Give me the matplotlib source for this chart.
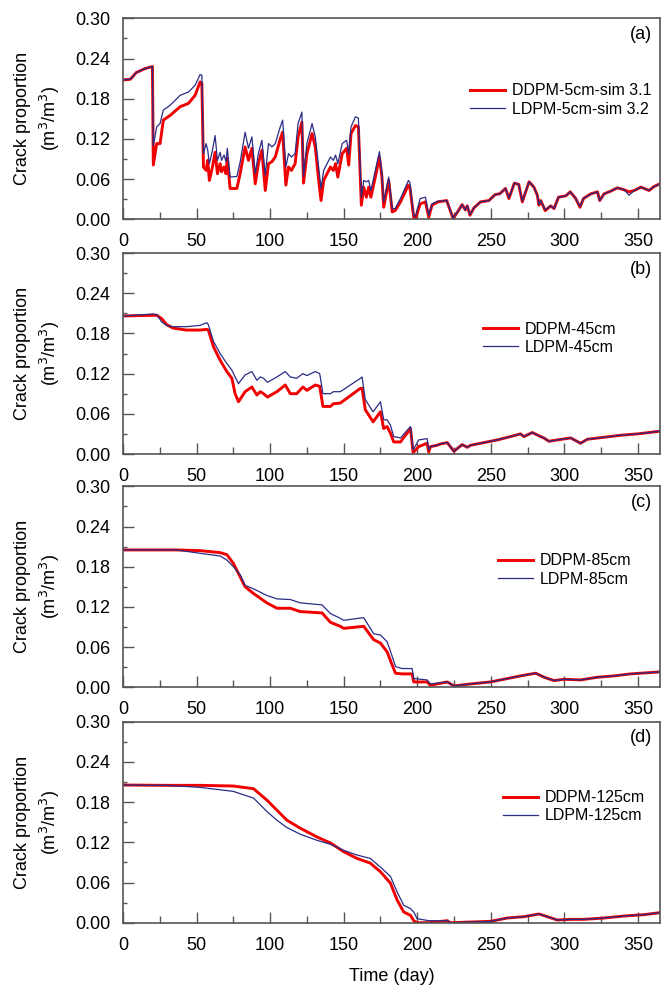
import matplotlib
matplotlib.use("Agg")
import matplotlib.pyplot as plt
from matplotlib.ticker import MultipleLocator

plt.rcParams['font.family'] = ['Liberation Sans', 'DejaVu Sans']

# ---------------- data ----------------
days_a = [0, 5, 9, 15, 20, 20.6, 22.9, 25.2, 27.4, 32, 38.8, 44.5, 49, 52.4, 53.6, 54.7, 56.5, 57.6,
          58.7, 60.8, 62.6, 64.2, 66, 67, 68.7, 70, 70.9, 72.8, 77.4, 79.6, 83, 85.3, 87.6, 89.9,
          92, 94.4, 96.7, 98.9, 101.2, 103.5, 106.9, 108.5, 110.7, 112.5, 114.5, 117, 119, 121.6,
          122.7, 125, 128.5, 130.7, 133, 134.6, 136.4, 138.7, 141, 143, 144.5, 146, 149, 152,
          153.4, 155, 158, 160, 162, 163.6, 165.4, 167, 168.5, 171.5, 174.3, 176, 177.2, 180.6,
          183, 185, 188.6, 194, 195, 197.6, 198.7, 202, 205.6, 207.8, 210, 214, 220, 224.4, 228,
          230.5, 232.7, 234, 235.8, 238.5, 243, 248.7, 253, 256, 260, 262.3, 266, 269, 271.4,
          276, 279.3, 281.6, 282.7, 283.9, 287, 290.7, 293, 296, 301, 304, 307.7, 310.6, 313,
          318, 322.5, 324, 327, 331.5, 336, 340.6, 344, 347.5, 352, 357.6, 361, 365]
ddpm_a = [.208, .209, .219, .225, .228, .081, .113, .113, .148, .155, .168, .173, .185, .205, .203,
          .078, .073, .088, .058, .078, .100, .068, .083, .071, .078, .068, .091, .046, .046, .068,
          .108, .088, .106, .053, .083, .103, .043, .083, .086, .093, .120, .130, .051, .078, .073,
          .083, .123, .145, .054, .098, .128, .108, .058, .028, .058, .068, .078, .073, .083, .063,
          .098, .106, .081, .128, .140, .138, .021, .048, .033, .048, .033, .063, .093, .063, .018,
          .058, .011, .013, .026, .051, .048, .003, .000, .023, .026, .003, .021, .026, .028, .001,
          .013, .022, .014, .020, .006, .017, .026, .028, .037, .038, .046, .031, .054, .052, .026,
          .056, .048, .036, .021, .028, .013, .020, .016, .033, .035, .041, .031, .018, .031, .038,
          .041, .028, .038, .042, .047, .044, .041, .043, .048, .043, .049, .053]
ldpm_a = [.208, .209, .219, .225, .228, .110, .138, .143, .163, .170, .185, .190, .200, .216, .215,
          .098, .113, .103, .083, .103, .125, .088, .100, .088, .096, .086, .106, .063, .064, .085,
          .130, .106, .123, .068, .098, .118, .066, .113, .108, .113, .138, .148, .078, .098, .093,
          .098, .143, .160, .064, .113, .143, .123, .078, .046, .073, .083, .093, .088, .096, .083,
          .113, .118, .098, .138, .153, .151, .033, .058, .056, .058, .043, .073, .101, .068, .026,
          .063, .016, .016, .031, .058, .055, .006, .004, .031, .033, .006, .023, .027, .028, .002,
          .013, .022, .014, .020, .007, .017, .026, .028, .037, .038, .046, .032, .054, .052, .027,
          .056, .048, .036, .022, .028, .014, .020, .016, .033, .035, .041, .031, .019, .031, .038,
          .041, .028, .038, .042, .047, .044, .036, .043, .048, .043, .049, .053]

days_b = [0, 20.6, 23, 26.3, 29.7, 34, 43, 52.4, 57, 58, 61.5, 66, 70.6, 74, 76.2, 78.5, 83, 87.6,
          91, 93.3, 95.5, 98.2, 104.6, 110.3, 113.7, 118, 122.3, 125, 130.7, 133.7, 135.9, 141,
          143, 147.7, 161.4, 162.5, 164.7, 170, 175, 177.2, 179.5, 181.8, 184, 188.6, 195.4,
          197.2, 201, 206.7, 207.8, 209, 213.5, 215.8, 220.4, 224.9, 230.5, 234, 236.2, 245.3,
          254.4, 263.4, 270.2, 272.5, 278.2, 283.9, 286, 289.5, 295.2, 304.3, 311, 315.6, 327,
          338.3, 349.7, 365]
ddpm_b = [.206, .207, .207, .202, .193, .188, .185, .185, .186, .185, .160, .140, .123, .113, .090,
          .078, .093, .100, .088, .093, .090, .085, .093, .103, .090, .090, .100, .095, .103, .101,
          .071, .071, .075, .076, .098, .098, .066, .048, .063, .038, .041, .031, .018, .018, .038,
          .002, .011, .016, .003, .011, .013, .015, .017, .004, .014, .010, .013, .017, .021, .026,
          .030, .026, .032, .026, .024, .019, .021, .024, .016, .022, .025, .028, .030, .034]
ldpm_b = [.206, .209, .208, .197, .192, .190, .190, .192, .196, .193, .168, .150, .135, .125, .115,
          .105, .118, .123, .110, .115, .113, .107, .115, .123, .115, .113, .120, .117, .123, .120,
          .090, .090, .093, .093, .113, .115, .081, .063, .078, .051, .051, .043, .026, .024, .041,
          .006, .021, .023, .006, .011, .013, .015, .017, .004, .014, .010, .013, .017, .021, .026,
          .030, .026, .032, .026, .024, .019, .021, .024, .016, .022, .025, .028, .030, .034]

days_c = [0, 36.5, 52.4, 66, 70.6, 75, 79.6, 83, 88.7, 97.8, 104.6, 113.7, 120.5, 135.3, 141,
          147.7, 150, 163.6, 170.4, 175, 179.5, 183, 185.2, 189.7, 196.5, 197.6, 206.7, 209,
          220.4, 224.9, 236.2, 249.8, 261.2, 272.5, 280.5, 286.2, 293, 299.8, 311, 322.3, 333.6,
          345, 365]
ddpm_c = [.205, .205, .204, .201, .198, .185, .165, .150, .140, .126, .118, .118, .113, .111, .097,
          .091, .088, .091, .071, .066, .053, .033, .021, .020, .020, .008, .008, .003, .008, .002,
          .005, .008, .013, .018, .021, .015, .010, .012, .011, .015, .017, .020, .023]
ldpm_c = [.205, .205, .200, .196, .190, .180, .168, .152, .147, .137, .132, .131, .126, .123, .110,
          .103, .100, .104, .080, .078, .068, .046, .031, .028, .028, .013, .011, .005, .008, .002,
          .005, .008, .013, .018, .021, .015, .010, .012, .011, .015, .017, .020, .023]

days_d = [0, 29.7, 52.4, 75, 88.7, 97.8, 104.6, 111.4, 120.5, 131.8, 141, 150, 159, 168, 175,
          181.8, 186.3, 190.8, 195.4, 197.6, 199.9, 207.8, 220.4, 222.6, 249.8, 261.2, 272.5,
          282.7, 288.4, 295.2, 304.3, 313.4, 327, 340.6, 354.2, 365]
ddpm_d = [.2055, .205, .205, .204, .200, .183, .168, .153, .141, .128, .119, .106, .096, .089, .076,
          .059, .034, .016, .011, .003, .000, .000, .003, .000, .002, .007, .009, .013, .009, .004,
          .005, .005, .007, .010, .012, .015]
ldpm_d = [.2055, .205, .202, .196, .186, .166, .153, .142, .132, .123, .117, .108, .101, .096, .083,
          .069, .046, .026, .021, .016, .006, .003, .003, .000, .002, .007, .009, .013, .009, .004,
          .005, .005, .007, .010, .012, .015]

panel_tags = ['(a)', '(b)', '(c)', '(d)']
ddpm_labels = ['DDPM-5cm-sim 3.1', 'DDPM-45cm', 'DDPM-85cm', 'DDPM-125cm']
ldpm_labels = ['LDPM-5cm-sim 3.2', 'LDPM-45cm', 'LDPM-85cm', 'LDPM-125cm']
x_ticks = [0, 50, 100, 150, 200, 250, 300, 350]
y_ticks = [0.00, 0.06, 0.12, 0.18, 0.24, 0.30]

# ---------------- layout ----------------
W, H = 667, 990
fig = plt.figure(figsize=(W / 100, H / 100), dpi=100)
left = 123 / W
width = (660 - 123) / W
height = 201 / H
bottoms_px = [219.3, 454.0, 687.3, 922.7]
legend_anchor = [(0.985, 0.594), (0.919, 0.576), (0.947, 0.584), (0.972, 0.577)]

series = [(days_a, ddpm_a, ldpm_a), (days_b, ddpm_b, ldpm_b),
          (days_c, ddpm_c, ldpm_c), (days_d, ddpm_d, ldpm_d)]

frame_col = '#555555'
red = '#F00000'
blue = '#2A2C86'

for i, (d, r, b) in enumerate(series):
    ax = fig.add_axes([left, 1 - bottoms_px[i] / H, width, height])
    ax.plot(d, r, color=red, lw=2.1, label=ddpm_labels[i], solid_joinstyle='round')
    ax.plot(d, b, color=blue, lw=0.9, label=ldpm_labels[i])
    ax.set_xlim(0, 365)
    ax.set_ylim(0, 0.30)
    ax.set_xticks(x_ticks)
    ax.set_yticks(y_ticks)
    ax.set_yticklabels([f'{v:.2f}' for v in y_ticks])
    ax.xaxis.set_minor_locator(MultipleLocator(25))
    ax.yaxis.set_minor_locator(MultipleLocator(0.03))
    ax.tick_params(axis='both', which='both', direction='in', top=False, right=False,
                   color=frame_col, labelsize=13, width=1.0)
    ax.tick_params(axis='x', which='major', length=8, pad=10)
    ax.tick_params(axis='x', which='minor', length=5)
    ax.tick_params(axis='y', which='major', length=8, pad=9)
    ax.tick_params(axis='y', which='minor', length=3)
    for sp in ax.spines.values():
        sp.set_color(frame_col)
        sp.set_linewidth(1.2)
    ax.text(0.985, 0.92, panel_tags[i], transform=ax.transAxes, ha='right', va='center',
            fontsize=13)
    ax.text(-0.158, 0.5, 'Crack proportion\n(m$^3$/m$^3$)', transform=ax.transAxes,
            rotation=90, ha='center', va='center', multialignment='center',
            fontsize=13, linespacing=1.35)
    ax.legend(loc='center right', bbox_to_anchor=legend_anchor[i], frameon=False,
              fontsize=11.5, handlelength=2.2, handletextpad=0.45, labelspacing=0.2,
              borderpad=0, borderaxespad=0)

fig.text(391.7 / W, 1 - 976.7 / H, 'Time (day)', ha='center', va='center', fontsize=13)

fig.savefig('out.png', dpi=100)
